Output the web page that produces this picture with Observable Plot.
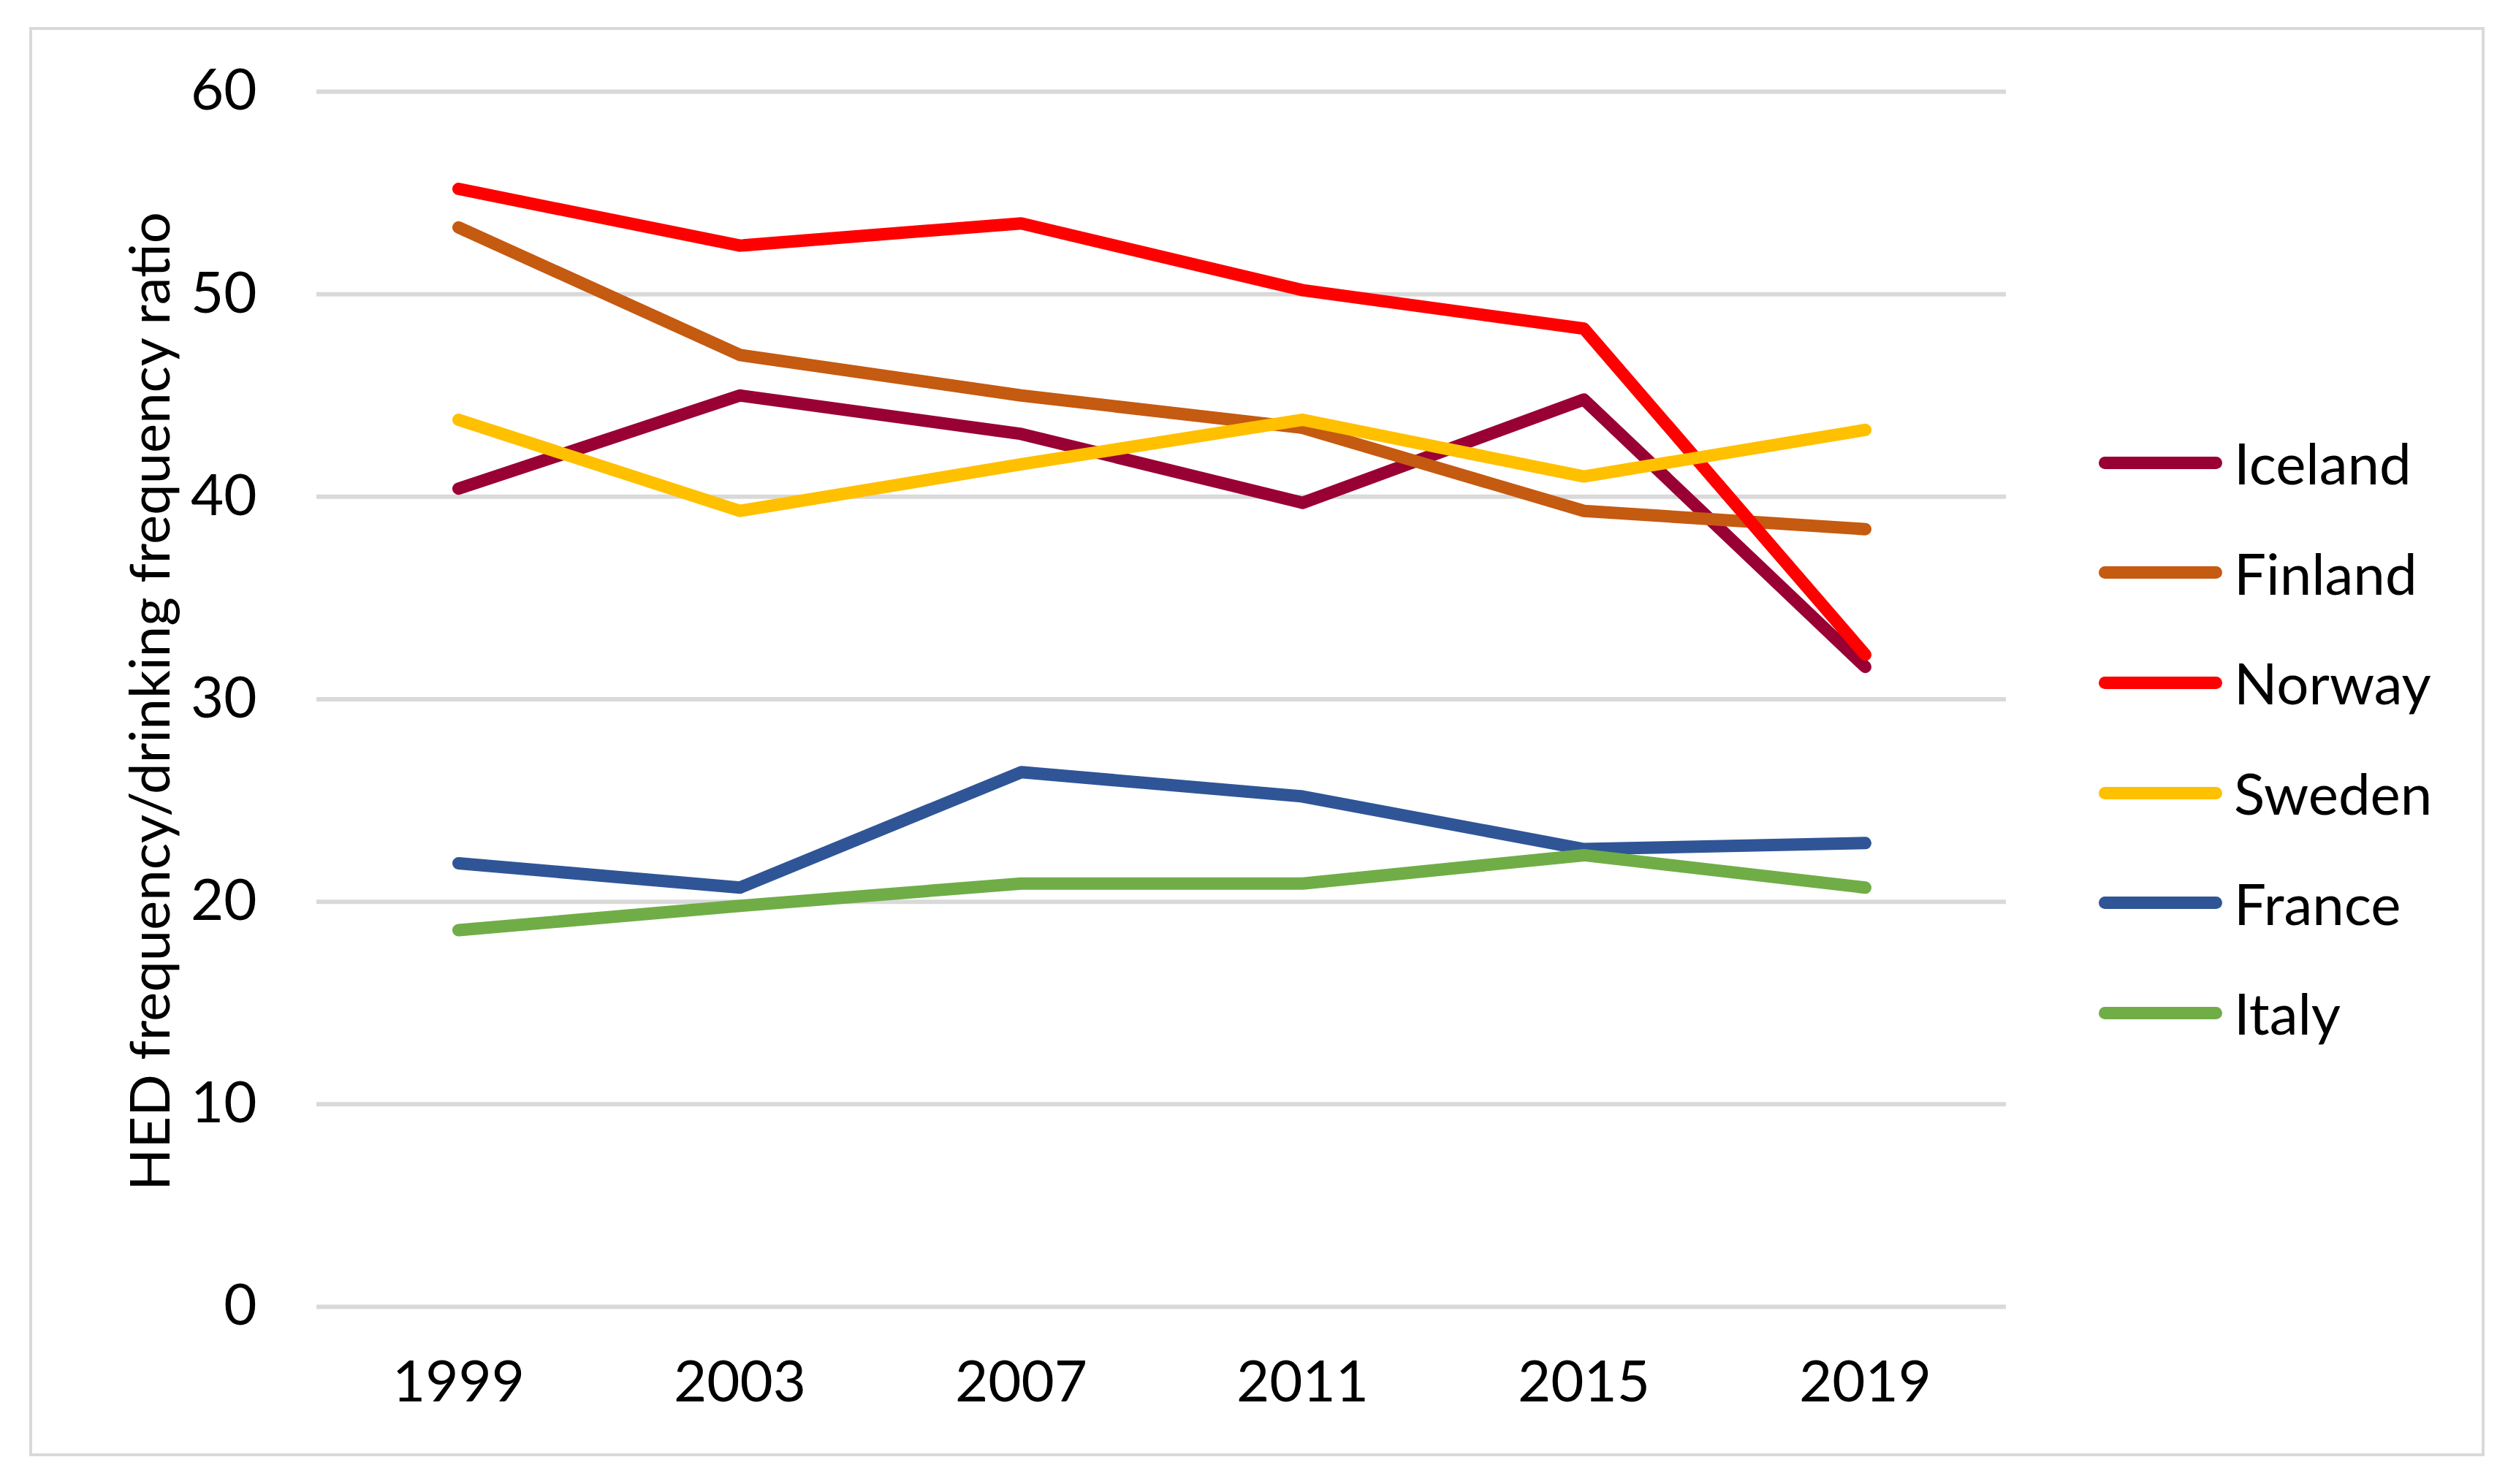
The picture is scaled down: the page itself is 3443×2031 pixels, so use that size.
<!DOCTYPE html>
<html>
<head>
<meta charset="utf-8">
<script src="https://cdn.jsdelivr.net/npm/d3@7"></script>
<script src="https://cdn.jsdelivr.net/npm/@observablehq/plot@0.6"></script>
<style>
  html, body { margin: 0; padding: 0; background: #fff; }
  #wrap { position: relative; width: 3443px; height: 2031px; font-family: Lato, "Open Sans", sans-serif; }
  #frame { position: absolute; left: 40px; top: 37px; width: 3360px; height: 1956px; border: 4px solid #d9d9d9; box-sizing: border-box; }
  #chart { position: absolute; left: 0; top: 0; }
  #ytitle { position: absolute; left: 202px; top: 960px; transform: translate(-50%, -50%) rotate(-90deg); white-space: nowrap; font-size: 76px; color: #000; }
  #legend { position: absolute; left: 2872px; top: 558px; }
  .row { display: flex; align-items: center; height: 150.6px; }
  .sw { width: 169px; height: 17px; border-radius: 8.5px; margin-right: 16px; }
  .lab { font-size: 78px; color: #000; line-height: 1; }
</style>
</head>
<body>
<div id="wrap">
  <div id="frame"></div>
  <div id="chart"></div>
  <div id="ytitle">HED frequency/drinking frequency ratio</div>
  <div id="legend"></div>
</div>
<script>
const years = ["1999", "2003", "2007", "2011", "2015", "2019"];
const countries = ["Iceland", "Finland", "Norway", "Sweden", "France", "Italy"];
const colors = ["#990033", "#C55A11", "#FF0000", "#FFC000", "#2F5597", "#70AD47"];
const iceland = [40.4, 45.0, 43.1, 39.7, 44.8, 31.6];
const finland = [53.3, 47.0, 45.0, 43.4, 39.3, 38.4];
const norway  = [55.2, 52.4, 53.5, 50.2, 48.3, 32.2];
const sweden  = [43.8, 39.3, 41.6, 43.8, 41.0, 43.3];
const france  = [21.9, 20.7, 26.4, 25.2, 22.6, 22.9];
const italy   = [18.6, 19.8, 20.9, 20.9, 22.3, 20.7];
const yTicks = [0, 10, 20, 30, 40, 50, 60];

const series = [iceland, finland, norway, sweden, france, italy];
const data = [];
countries.forEach((c, i) => years.forEach((y, j) => data.push({country: c, year: y, value: series[i][j]})));

const chart = Plot.plot({
  width: 3443,
  height: 2031,
  marginLeft: 433,
  marginRight: 698,
  marginTop: 125,
  marginBottom: 243,
  style: { fontFamily: "Lato, 'Open Sans', sans-serif", background: "transparent" },
  x: { type: "point", domain: years, padding: 0.5, label: null },
  y: { domain: [0, 60], label: null },
  color: { domain: countries, range: colors },
  marks: [
    Plot.gridY(yTicks, { stroke: "#d9d9d9", strokeOpacity: 1, strokeWidth: 6 }),
    Plot.axisY(yTicks, { tickSize: 0, tickPadding: 82, fontSize: 78, label: null, fill: "#000" }),
    Plot.axisX({ tickSize: 0, tickPadding: 74, fontSize: 78, label: null, fill: "#000" }),
    Plot.line(data, { x: "year", y: "value", z: "country", stroke: "country", strokeWidth: 17, strokeLinecap: "round", strokeLinejoin: "round" })
  ]
});
document.getElementById("chart").appendChild(chart);

const legend = document.getElementById("legend");
countries.forEach((c, i) => {
  const row = document.createElement("div");
  row.className = "row";
  row.innerHTML = `<div class="sw" style="background:${colors[i]}"></div><div class="lab">${c}</div>`;
  legend.appendChild(row);
});
</script>
</body>
</html>
